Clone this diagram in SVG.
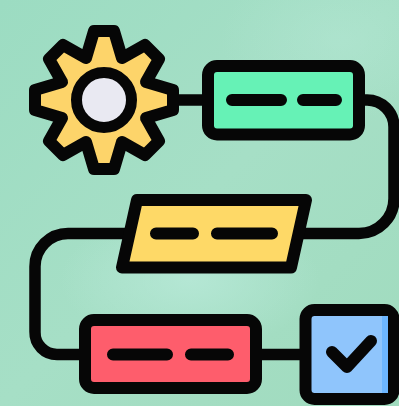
<svg xmlns="http://www.w3.org/2000/svg" width="399" height="406" viewBox="0 0 399 406">
<defs>
<linearGradient id="bg" x1="0" y1="0" x2="1" y2="1">
<stop offset="0" stop-color="#9cdcc2"/><stop offset="0.5" stop-color="#a6dfc6"/><stop offset="1" stop-color="#a0dbbe"/>
</linearGradient>
<radialGradient id="glow">
<stop offset="0" stop-color="#b6e8d6" stop-opacity="0.9"/><stop offset="1" stop-color="#b6e8d6" stop-opacity="0"/>
</radialGradient>
</defs>
<style>
.k{stroke:#060606;stroke-width:12;stroke-linejoin:round;stroke-linecap:round}
.c{fill:none;stroke:#060606;stroke-width:11.5;stroke-linecap:butt}
</style>
<rect width="399" height="406" fill="url(#bg)"/>
<ellipse cx="190" cy="280" rx="130" ry="70" fill="url(#glow)"/>
<ellipse cx="340" cy="40" rx="120" ry="80" fill="url(#glow)" opacity="0.5"/>
<g id="connectors">
<path class="c" d="M175 100H205"/>
<path class="c" d="M360 100H367A27 27 0 0 1 394 127V198A35 35 0 0 1 359 233.5H300"/>
<path class="c" d="M130 233.5H68A33 33 0 0 0 35 266.5V332A22 22 0 0 0 57 354.5H85"/>
<path class="c" d="M255 354.5H306"/>
</g>
<g id="gear">
<path class="k" fill="#fdd46a" d="M94 31H114L122 58L145 45L159 59L146 82L173 90V110L146 118L159 141L145 155L122 142L114 169H94L86 142L63 155L49 141L62 118L35 110V90L62 82L49 59L63 45L86 58Z"/>
<circle cx="104" cy="100" r="27.5" fill="#e9e9f2" stroke="#060606" stroke-width="11"/>
</g>
<g id="process">
<rect class="k" x="208" y="66" width="151" height="68.5" rx="9" fill="#66f2b6"/>
<path class="k" d="M232 100H281M303 100H336" fill="none"/>
</g>
<g id="data">
<path class="k" fill="#fed967" d="M137 200H306L291 267.5H122Z"/>
<path class="k" d="M156 233.5H193M217 233.5H272" fill="none"/>
</g>
<g id="step">
<rect class="k" x="85" y="320" width="171" height="68" rx="9" fill="#fe5d6c"/>
<path class="k" d="M113 354.5H167M191 354.5H228" fill="none"/>
</g>
<g id="done">
<rect class="k" x="305.500" y="310" width="88" height="89" rx="9" fill="#8fc5fc"/>
<rect x="382" y="316" width="6" height="77" fill="#6db6ff"/>
<path class="k" d="M332 352L347 367L371 341" fill="none"/>
</g>
</svg>
